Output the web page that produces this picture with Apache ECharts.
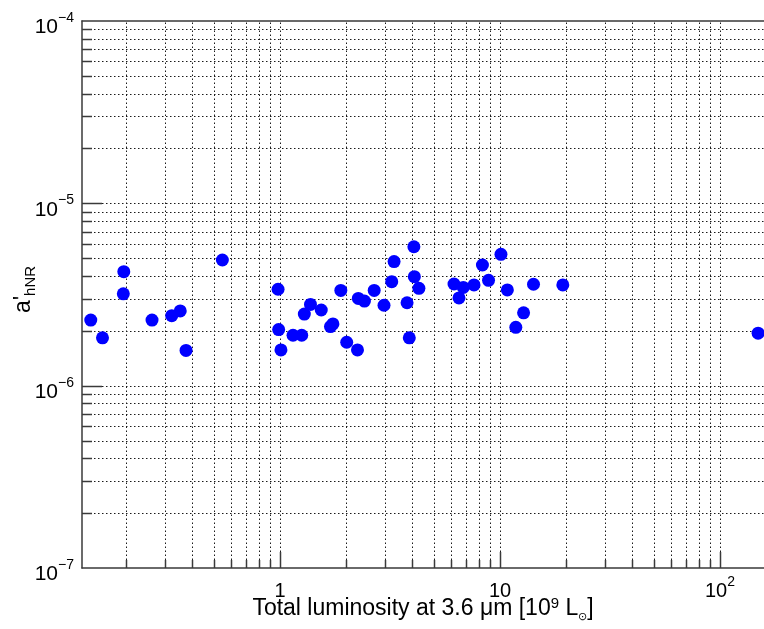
<!DOCTYPE html>
<html><head><meta charset="utf-8">
<script src="https://cdn.jsdelivr.net/npm/echarts@6/dist/echarts.min.js"></script>
<style>html,body{margin:0;padding:0;background:#fff}#c{width:764px;height:629px}</style>
</head><body><div id="c"></div>
<script>
// ---- data ----
const luminosity = [0.138, 0.156, 0.195, 0.194, 0.262, 0.322, 0.352, 0.374, 0.547, 0.98,
  0.986, 1.01, 1.146, 1.255, 1.29, 1.376, 1.54, 1.696, 1.74, 1.89,
  2.01, 2.25, 2.27, 2.42, 2.68, 2.97, 3.22, 3.30, 3.78, 3.87,
  4.06, 4.08, 4.28, 6.18, 6.51, 6.81, 7.62, 8.32, 8.87, 10.1,
  10.8, 12.8, 11.8, 14.2, 19.3, 149];
const aHNR = [2.29e-6, 1.83e-6, 4.22e-6, 3.19e-6, 2.29e-6, 2.42e-6, 2.57e-6, 1.56e-6, 4.89e-6, 3.38e-6,
  2.03e-6, 1.57e-6, 1.89e-6, 1.89e-6, 2.47e-6, 2.79e-6, 2.60e-6, 2.11e-6, 2.18e-6, 3.33e-6,
  1.73e-6, 1.57e-6, 3.01e-6, 2.91e-6, 3.33e-6, 2.76e-6, 3.72e-6, 4.79e-6, 2.85e-6, 1.83e-6,
  5.78e-6, 3.96e-6, 3.42e-6, 3.61e-6, 3.03e-6, 3.46e-6, 3.57e-6, 4.59e-6, 3.78e-6, 5.25e-6,
  3.35e-6, 2.51e-6, 2.09e-6, 3.60e-6, 3.57e-6, 1.94e-6];
const xMin = Math.pow(10, -0.9), xMax = Math.pow(10, 2.2);
const yMin = 1e-7, yMax = 1e-4;
const xGridValues = [0.2,0.3,0.4,0.5,0.6,0.7,0.8,0.9,1,2,3,4,5,6,7,8,9,10,20,30,40,50,60,70,80,90,100];
const yGridValues = [2e-7,3e-7,4e-7,5e-7,6e-7,7e-7,8e-7,9e-7,1e-6,2e-6,3e-6,4e-6,5e-6,6e-6,7e-6,8e-6,9e-6,1e-5,2e-5,3e-5,4e-5,5e-5,6e-5,7e-5,8e-5,9e-5];
const xTitle = 'Total luminosity at 3.6 μm [10{sup|9} L{sub|⊙}]';
const yTitle = "a'{sub|hNR}";

// ---- chart ----
const FONT = 'Liberation Sans, Arial, Helvetica, sans-serif';
const AX = '#3a3a3a';
const isDecade = v => Math.abs(Math.log10(v) - Math.round(Math.log10(v))) < 1e-6;
const supNum = e => String(e).replace('-', '−');
const xLabelRich = {
  b: {fontSize: 20, fontFamily: FONT, color: '#000', lineHeight: 26, verticalAlign: 'bottom'},
  s: {fontSize: 14, fontFamily: FONT, color: '#000', lineHeight: 14, verticalAlign: 'top'}
};
const yLabelRich = {
  b: {fontSize: 21, fontFamily: FONT, color: '#000', lineHeight: 27, verticalAlign: 'bottom'},
  s: {fontSize: 14, fontFamily: FONT, color: '#000', lineHeight: 13, verticalAlign: 'top'}
};
const crisp = p => Math.round(p) + 0.5;
const dotted = {stroke: '#1a1a1a', lineWidth: 1, lineDash: [1.5, 2.5]};
const tickStyle = {stroke: AX, lineWidth: 1.5};

const chart = echarts.init(document.getElementById('c'), null, {renderer: 'canvas'});
chart.setOption({
  animation: false,
  backgroundColor: '#fff',
  grid: {left: 82, top: 21, right: 0, bottom: 61, containLabel: false, outerBoundsMode: 'none'},
  xAxis: [{
    type: 'log', logBase: 10, min: xMin, max: xMax, position: 'bottom',
    axisLine: {show: true, onZero: false, lineStyle: {color: AX, width: 1.5}},
    axisTick: {show: false}, splitLine: {show: false}, minorTick: {show: false},
    axisLabel: {
      margin: 7, showMinLabel: true, showMaxLabel: true,
      formatter: v => {
        if (!isDecade(v)) return '';
        const e = Math.round(Math.log10(v));
        if (e === 0) return '{b|1}';
        if (e === 1) return '{b|10}';
        return '{b|10}{s|' + supNum(e) + '}';
      },
      rich: xLabelRich
    },
    name: xTitle, nameLocation: 'middle', nameGap: 28, nameMoveOverlap: false,
    nameTextStyle: {
      fontSize: 23, fontFamily: FONT, color: '#000', lineHeight: 26,
      rich: {
        sup: {fontSize: 15, fontFamily: FONT, color: '#000', lineHeight: 15, verticalAlign: 'top'},
        sub: {fontSize: 11, fontFamily: FONT, color: '#000', lineHeight: 11, verticalAlign: 'bottom'}
      }
    }
  }, {
    type: 'log', logBase: 10, min: xMin, max: xMax, position: 'top',
    axisLine: {show: true, onZero: false, lineStyle: {color: AX, width: 1.5}},
    axisTick: {show: false}, axisLabel: {show: false}, splitLine: {show: false}
  }],
  yAxis: {
    type: 'log', logBase: 10, min: yMin, max: yMax,
    axisLine: {show: true, onZero: false, lineStyle: {color: AX, width: 1.5}},
    axisTick: {show: false}, splitLine: {show: false}, minorTick: {show: false},
    axisLabel: {
      margin: 8, showMinLabel: true, showMaxLabel: true, padding: [7, 0, 0, 0],
      formatter: v => '{b|10}{s|' + supNum(Math.round(Math.log10(v))) + '}',
      rich: yLabelRich
    },
    name: yTitle, nameLocation: 'middle', nameGap: 44, nameMoveOverlap: false,
    nameTextStyle: {
      fontSize: 23, fontFamily: FONT, color: '#000', lineHeight: 28, padding: [0, 0, 0, 10],
      rich: {
        sub: {fontSize: 15, fontFamily: FONT, color: '#000', lineHeight: 15, verticalAlign: 'bottom'}
      }
    }
  },
  series: [{
    type: 'custom', silent: true, z: 1, clip: false,
    data: xGridValues.map(v => [v, yMin]),
    renderItem: (params, api) => {
      const v = api.value(0);
      const p0 = api.coord([v, yMin]);
      const p1 = api.coord([v, yMax]);
      const x = crisp(p0[0]);
      const len = isDecade(v) ? 16 : 8;
      return {type: 'group', children: [
        {type: 'line', shape: {x1: x, y1: p0[1], x2: x, y2: p1[1]}, style: dotted},
        {type: 'line', shape: {x1: x, y1: p0[1], x2: x, y2: p0[1] - len}, style: tickStyle}
      ]};
    }
  }, {
    type: 'custom', silent: true, z: 1, clip: false,
    data: yGridValues.map(v => [xMin, v]),
    renderItem: (params, api) => {
      const v = api.value(1);
      const p0 = api.coord([xMin, v]);
      const p1 = api.coord([xMax, v]);
      const y = crisp(p0[1]);
      const len = isDecade(v) ? 20 : 10;
      return {type: 'group', children: [
        {type: 'line', shape: {x1: p0[0], y1: y, x2: p1[0], y2: y}, style: dotted},
        {type: 'line', shape: {x1: p0[0], y1: y, x2: p0[0] + len, y2: y}, style: tickStyle}
      ]};
    }
  }, {
    type: 'scatter', z: 5, symbol: 'circle', symbolSize: 13,
    itemStyle: {color: '#0000ff', opacity: 1},
    data: luminosity.map((x, i) => [x, aHNR[i]])
  }]
});
</script>
</body></html>
